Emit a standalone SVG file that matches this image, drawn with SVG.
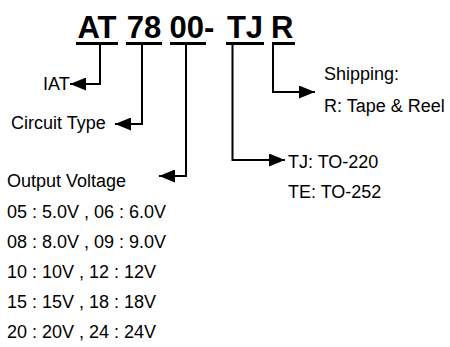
<svg xmlns="http://www.w3.org/2000/svg" width="450" height="347" viewBox="0 0 450 347">
<style>
.t{font-family:"Liberation Sans",Arial,sans-serif;font-size:18px;fill:#000}
.h{font-family:"Liberation Sans",Arial,sans-serif;font-size:31px;font-weight:bold;fill:#000}
.c{fill:none;stroke:#000;stroke-width:2;marker-end:url(#ah)}
</style>
<defs>
<marker id="ah" markerUnits="userSpaceOnUse" markerWidth="16" markerHeight="13" refX="16" refY="6.5" orient="auto">
<path d="M0,0 L16,6.5 L0,13 z" fill="#000"/>
</marker>
</defs>
<rect width="450" height="347" fill="#fff"/>
<g id="title">
<text class="h" x="97" y="38" text-anchor="middle">AT</text>
<text class="h" x="144" y="38" text-anchor="middle">78</text>
<text class="h" x="169.5" y="38">00-</text>
<text class="h" x="245" y="38" text-anchor="middle">TJ</text>
<text class="h" x="271" y="38">R</text>
<rect x="76" y="42" width="42" height="3"/>
<rect x="126" y="42" width="36" height="3"/>
<rect x="170" y="42" width="36" height="3"/>
<rect x="226" y="42" width="38" height="3"/>
<rect x="272" y="42" width="23" height="3"/>
</g>
<g id="connectors">
<path class="c" d="M100,45 V84 H70"/>
<path class="c" d="M142,45 V124 H115"/>
<path class="c" d="M186,45 V176 H159"/>
<path class="c" d="M232.5,45 V160 H285"/>
<path class="c" d="M273,45 V92 H315"/>
</g>
<g id="iat"><text class="t" x="43" y="90">IAT</text></g>
<g id="circuit"><text class="t" x="11" y="129">Circuit Type</text></g>
<g id="voltage">
<text class="t" x="7" y="187">Output Voltage</text>
<text class="t" x="7" y="218">05 : 5.0V , 06 : 6.0V</text>
<text class="t" x="7" y="248">08 : 8.0V , 09 : 9.0V</text>
<text class="t" x="7" y="278">10 : 10V , 12 : 12V</text>
<text class="t" x="7" y="308">15 : 15V , 18 : 18V</text>
<text class="t" x="7" y="338">20 : 20V , 24 : 24V</text>
</g>
<g id="package">
<text class="t" x="288" y="168">TJ: TO-220</text>
<text class="t" x="288" y="198">TE: TO-252</text>
</g>
<g id="shipping">
<text class="t" x="324" y="80">Shipping:</text>
<text class="t" x="324" y="112">R: Tape &amp; Reel</text>
</g>
</svg>
